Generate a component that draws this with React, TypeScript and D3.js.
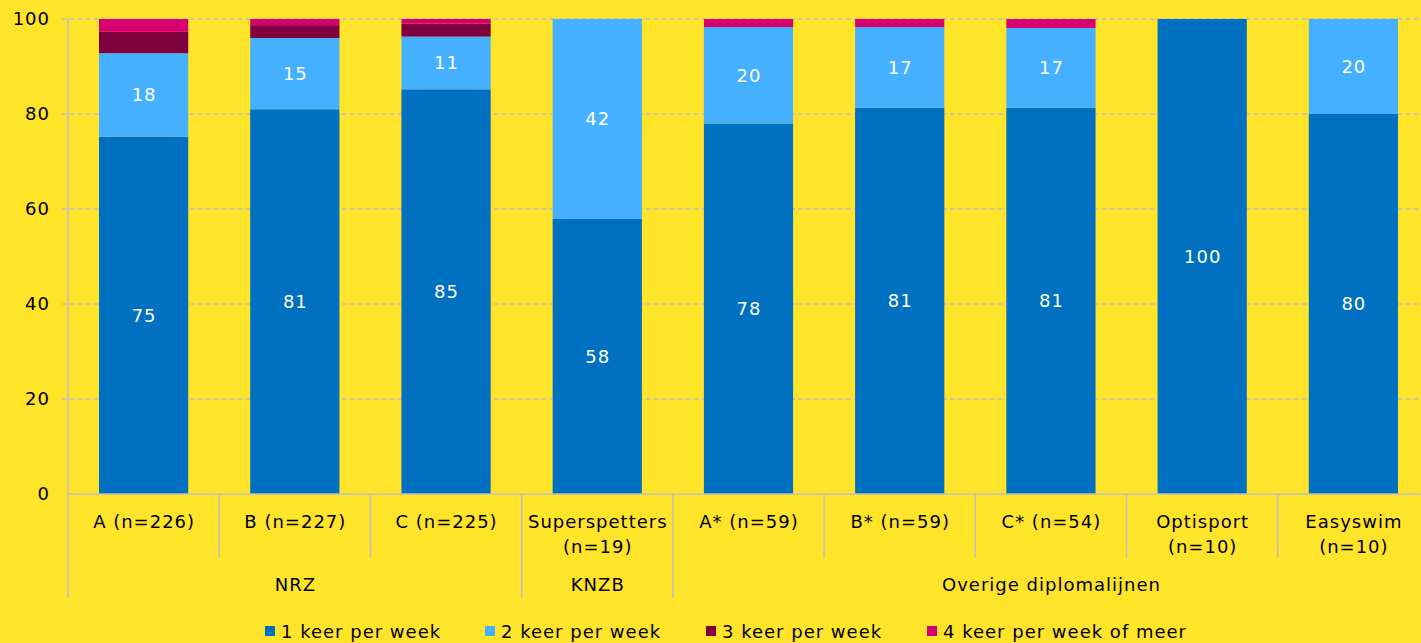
import React from "react";
import * as d3 from "d3";

const categories = ["A (n=226)", "B (n=227)", "C (n=225)", "Superspetters\n(n=19)", "A* (n=59)", "B* (n=59)", "C* (n=54)", "Optisport\n(n=10)", "Easyswim\n(n=10)"];
const groups = [
  { name: "NRZ", start: 0, end: 3 },
  { name: "KNZB", start: 3, end: 4 },
  { name: "Overige diplomalijnen", start: 4, end: 9 },
];
const series1 = [75.2, 81, 85.2, 57.9, 78, 81.3, 81.3, 100, 80];
const series2 = [17.6, 15, 11.1, 42.1, 20.3, 17, 16.8, 0, 20];
const series3 = [4.5, 2.7, 2.7, 0, 0, 0, 0, 0, 0];
const series4 = [2.7, 1.3, 1.0, 0, 1.7, 1.7, 1.9, 0, 0];
const labels1 = ["75", "81", "85", "58", "78", "81", "81", "100", "80"];
const labels2 = ["18", "15", "11", "42", "20", "17", "17", "", "20"];
const seriesNames = ["1 keer per week", "2 keer per week", "3 keer per week", "4 keer per week of meer"];
const colors = ["#0070C0", "#45B0FF", "#7F003F", "#D60070"];
const yTicks = [0, 20, 40, 60, 80, 100];

const W = 1421, H = 643;
const FONT = "'DejaVu Sans', sans-serif";
const LS = 1;

export default function App() {
  const left = 68, right = 1429, top = 19, bottom = 494;
  const x = d3.scaleBand<number>().domain(d3.range(categories.length)).range([left, right]).paddingInner(0.41).paddingOuter(0.205);
  const y = d3.scaleLinear().domain([0, 100]).range([bottom, top]);
  const step = x.step();
  const bandStart = (i: number) => left + i * step;
  const all = [series1, series2, series3, series4];
  const stacked = categories.map((_, i) => {
    let acc = 0;
    return all.map((s, k) => {
      const y0 = acc;
      acc += s[i];
      return { k, y0, y1: acc, v: s[i] };
    });
  });
  const groupStarts = new Set(groups.map((g) => g.start).concat([categories.length]));
  const legendX = [265, 485, 706, 927];
  const tp = { fontFamily: FONT, fontSize: 18, letterSpacing: LS } as const;
  return (
    <svg width={W} height={H} style={{ position: "absolute", left: 0, top: 0, background: "#FFE42A" }}>
      <rect x={0} y={0} width={W} height={H} fill="#FFE42A" />
      {yTicks.map((t) => (
        <g key={t}>
          {t > 0 && (
            <line x1={left - 6} x2={W} y1={y(t)} y2={y(t)} stroke="#BFBFBF" strokeWidth={1.3} strokeDasharray="5,3" />
          )}
          <text x={50} y={y(t)} dy="0.35em" textAnchor="end" {...tp} fill="#000">{t}</text>
        </g>
      ))}
      <line x1={left} x2={left} y1={top} y2={bottom} stroke="#BFBFBF" strokeWidth={1.5} />
      {stacked.map((segs, i) =>
        segs.filter((s) => s.v > 0).map((s) => (
          <rect key={i + "-" + s.k} x={x(i)} width={x.bandwidth()} y={y(s.y1)} height={y(s.y0) - y(s.y1)} fill={colors[s.k]} />
        ))
      )}
      {stacked.map((segs, i) => (
        <g key={"l" + i}>
          <text x={x(i)! + x.bandwidth() / 2 + LS / 2} y={y((segs[0].y0 + segs[0].y1) / 2)} dy="0.35em" textAnchor="middle" {...tp} fill="#fff">{labels1[i]}</text>
          {labels2[i] && (
            <text x={x(i)! + x.bandwidth() / 2 + LS / 2} y={y((segs[1].y0 + segs[1].y1) / 2)} dy="0.35em" textAnchor="middle" {...tp} fill="#fff">{labels2[i]}</text>
          )}
        </g>
      ))}
      <line x1={left} x2={W} y1={bottom} y2={bottom} stroke="#BFBFBF" strokeWidth={1.5} />
      {d3.range(categories.length + 1).map((i) => (
        <line key={"s" + i} x1={bandStart(i)} x2={bandStart(i)} y1={bottom} y2={groupStarts.has(i) ? 598 : 558} stroke="#BFBFBF" strokeWidth={1.5} />
      ))}
      {categories.map((c, i) => {
        const lines = c.split("\n");
        return (
          <text key={"c" + i} x={bandStart(i) + step / 2} y={522} textAnchor="middle" {...tp} fill="#000">
            {lines.map((ln, j) => (
              <tspan key={j} x={bandStart(i) + step / 2 + LS / 2} y={522 + j * 25} dy="0.35em">{ln}</tspan>
            ))}
          </text>
        );
      })}
      {groups.map((g) => (
        <text key={g.name} x={(bandStart(g.start) + bandStart(g.end)) / 2 + LS / 2} y={585} dy="0.35em" textAnchor="middle" {...tp} fill="#000">{g.name}</text>
      ))}
      {seriesNames.map((n, k) => (
        <g key={n}>
          <rect x={legendX[k]} y={626} width={10} height={10} fill={colors[k]} />
          <text x={legendX[k] + 16} y={632} dy="0.35em" {...tp} fill="#000">{n}</text>
        </g>
      ))}
    </svg>
  );
}
